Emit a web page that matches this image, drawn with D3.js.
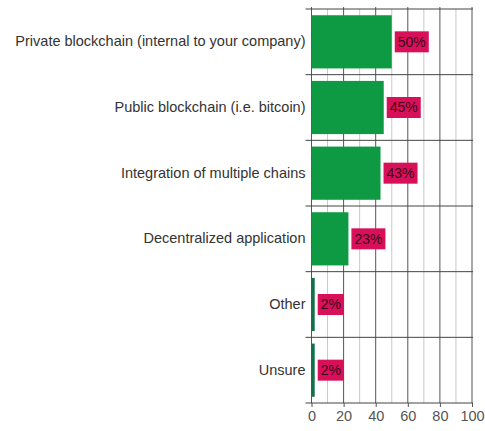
<!DOCTYPE html>
<html>
<head>
<meta charset="utf-8">
<script src="https://cdn.jsdelivr.net/npm/d3@7"></script>
<style>
  html, body { margin: 0; padding: 0; background: #fff; }
  svg { display: block; font-family: "Liberation Sans", Arial, sans-serif; }
</style>
</head>
<body>
<svg id="chart" width="485" height="431"></svg>
<script>
// Survey answers and their shares (percent)
const categories = [
  "Private blockchain (internal to your company)",
  "Public blockchain (i.e. bitcoin)",
  "Integration of multiple chains",
  "Decentralized application",
  "Other",
  "Unsure"
];
const shares = [50, 45, 43, 23, 2, 2];
const xTicks = [0, 20, 40, 60, 80, 100];
const minorTicks = [10, 30, 50, 70, 90];

const svg = d3.select("#chart");
const margin = { top: 9, right: 13, bottom: 28, left: 311.5 };
const W = 485, H = 431;

const x = d3.scaleLinear().domain([0, 100]).range([margin.left, W - margin.right]);
const y = d3.scaleBand().domain(categories).range([margin.top, H - margin.bottom]).paddingInner(0.19).paddingOuter(0.095);

const data = categories.map((c, i) => ({ cat: c, v: shares[i] }));

// Band boundaries for horizontal separators
const step = y.step();
const bandEdges = d3.range(categories.length + 1).map(i => margin.top + i * step);

// minor vertical gridlines
svg.append("g").selectAll("line").data(minorTicks).join("line")
  .attr("x1", d => x(d)).attr("x2", d => x(d))
  .attr("y1", margin.top).attr("y2", bandEdges[bandEdges.length - 1])
  .attr("stroke", "#c8c8c8").attr("stroke-width", 1);

// major vertical gridlines
svg.append("g").selectAll("line").data(xTicks).join("line")
  .attr("x1", d => x(d)).attr("x2", d => x(d))
  .attr("y1", margin.top - 2).attr("y2", bandEdges[bandEdges.length - 1])
  .attr("stroke", "#555").attr("stroke-width", 1);

// horizontal separators between categories
svg.append("g").selectAll("line").data(bandEdges).join("line")
  .attr("x1", x(0) - 6).attr("x2", x(100) + 1)
  .attr("y1", d => d).attr("y2", d => d)
  .attr("stroke", "#444").attr("stroke-width", 1);

// bottom axis
const axis = d3.axisBottom(x).tickValues(xTicks).tickSize(4).tickPadding(4);
const ax = svg.append("g")
  .attr("transform", `translate(0,${bandEdges[bandEdges.length - 1]})`)
  .call(axis);
ax.select(".domain").remove();
ax.selectAll(".tick line").attr("stroke", "#555");
ax.selectAll("text").attr("fill", "#555").attr("font-size", 14.5)
  .attr("font-family", "'Liberation Sans', Arial, sans-serif");

// bars
svg.append("g").selectAll("rect").data(data).join("rect")
  .attr("x", x(0))
  .attr("y", d => y(d.cat))
  .attr("width", d => x(d.v) - x(0))
  .attr("height", y.bandwidth())
  .attr("fill", d => d.v > 5 ? "#0e9a42" : "#12704a");

// category labels
svg.append("g").selectAll("text").data(data).join("text")
  .attr("x", x(0) - 6)
  .attr("y", d => y(d.cat) + y.bandwidth() / 2)
  .attr("dy", "0.3em")
  .attr("text-anchor", "end")
  .attr("font-size", 14.5)
  .attr("fill", "#333")
  .text(d => d.cat);

// value labels on magenta boxes
const lab = svg.append("g").selectAll("g").data(data).join("g")
  .attr("transform", d => `translate(${x(d.v) + 3},${y(d.cat) + y.bandwidth() / 2})`);
lab.append("text")
  .attr("x", 3)
  .attr("dy", "0.35em")
  .attr("font-size", 14)
  .attr("fill", "#3a0616")
  .text(d => d.v + "%")
  .each(function () {
    const bb = this.getBBox();
    d3.select(this.parentNode).insert("rect", "text")
      .attr("x", 0).attr("y", -10.5)
      .attr("width", bb.width + 6).attr("height", 21)
      .attr("fill", "#d8105a");
  });
</script>
</body>
</html>
